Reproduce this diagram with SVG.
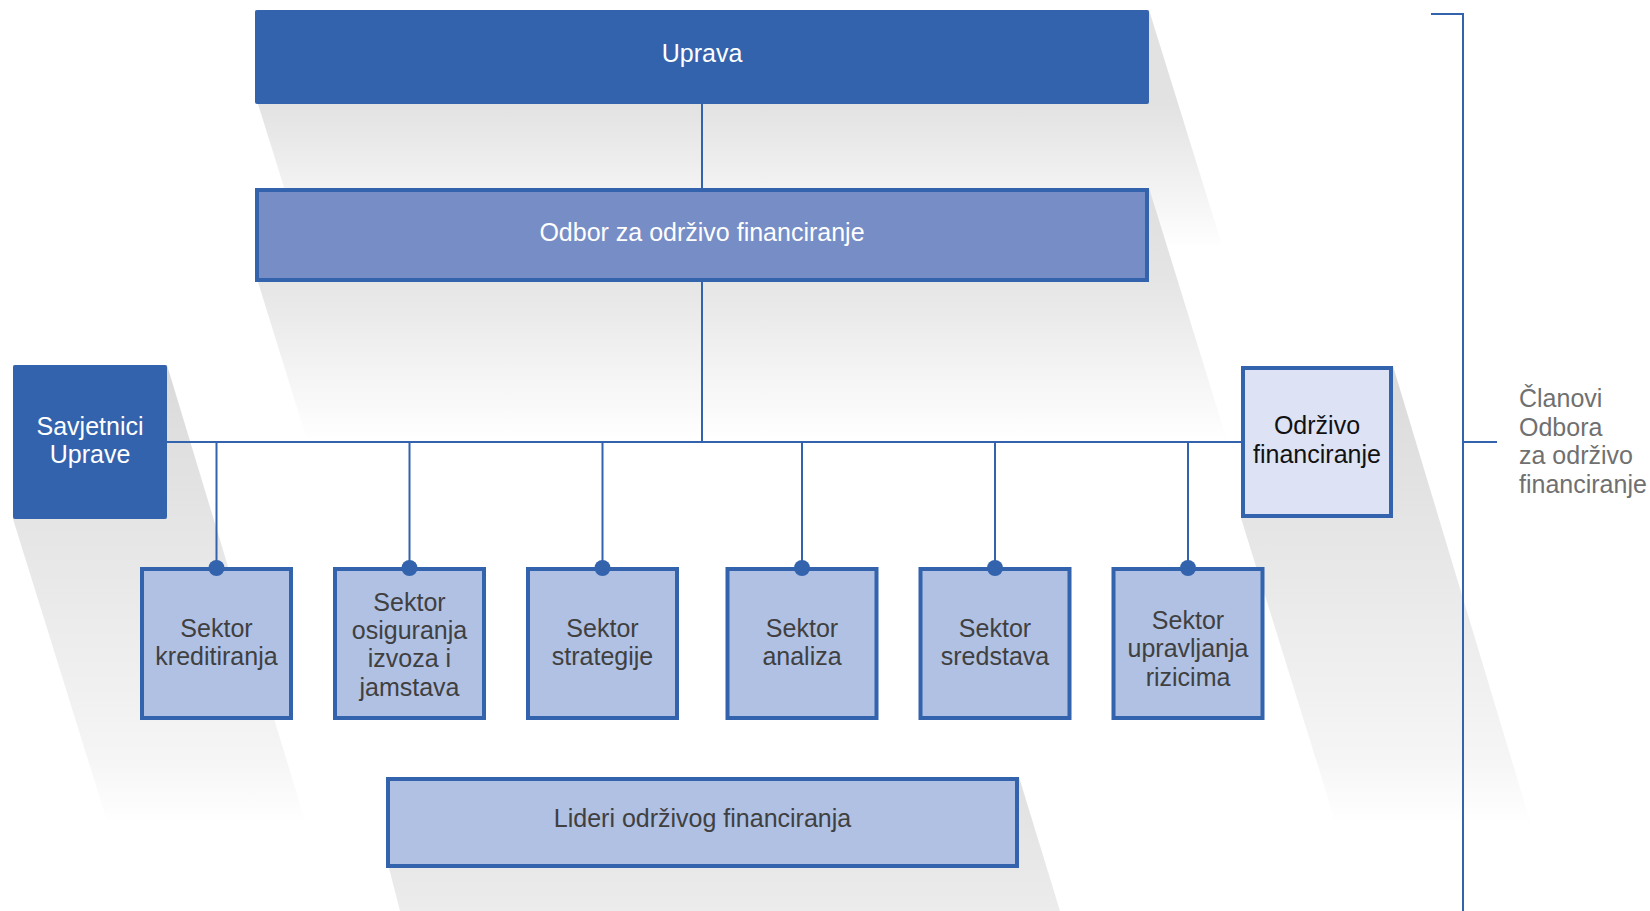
<svg xmlns="http://www.w3.org/2000/svg" width="1650" height="911" viewBox="0 0 1650 911">
<style>
text{font-family:"Liberation Sans",Arial,sans-serif;font-size:25px;text-anchor:middle}
.w{fill:#ffffff}
.d{fill:#404040}
.k{fill:#111111}
.g{fill:#707070;text-anchor:start}
.dark{fill:#3363ad}
.box{stroke:#3363ad;stroke-width:4}
.sec{fill:#b0c1e4}
.line{stroke:#3363ad;stroke-width:2;fill:none}
.dot{fill:#3363ad}
</style>
<defs>
<linearGradient id="gU" gradientUnits="userSpaceOnUse" x1="0" y1="104" x2="0" y2="250"><stop offset="0" stop-color="#e2e2e2"/><stop offset="1" stop-color="#ffffff"/></linearGradient>
<linearGradient id="gO" gradientUnits="userSpaceOnUse" x1="0" y1="188" x2="0" y2="440"><stop offset="0" stop-color="#dedede"/><stop offset="0.37" stop-color="#e5e5e5"/><stop offset="1" stop-color="#ffffff"/></linearGradient>
<linearGradient id="gS" gradientUnits="userSpaceOnUse" x1="0" y1="365" x2="0" y2="825"><stop offset="0" stop-color="#dadada"/><stop offset="0.85" stop-color="#f5f5f5"/><stop offset="1" stop-color="#ffffff"/></linearGradient>
<linearGradient id="gL" gradientUnits="userSpaceOnUse" x1="0" y1="777" x2="0" y2="911"><stop offset="0" stop-color="#e0e0e0"/><stop offset="1" stop-color="#ececec"/></linearGradient>
</defs>
<rect width="1650" height="911" fill="#ffffff"/>
<g id="shadows">
<polygon points="255,10 1149,10 1222,245 302,245 258,104" fill="url(#gU)"/>
<polygon points="255,188 1149,188 1227,440 307,440 258,282" fill="url(#gO)"/>
<polygon points="13,365 167,365 305,821 107,821 13,519" fill="url(#gS)"/>
<polygon points="1241,366 1393,366 1530,821 1335,821 1241,518" fill="url(#gS)"/>
<polygon points="386,777 1019,777 1060,911 400,911 389,868" fill="url(#gL)"/>
</g>
<g id="bracket">
<polyline class="line" points="1431,14 1463,14 1463,911"/>
<line class="line" x1="1463" y1="442" x2="1497" y2="442"/>
<text class="g" x="1519" y="407">Članovi</text>
<text class="g" x="1519" y="436">Odbora</text>
<text class="g" x="1519" y="464">za održivo</text>
<text class="g" x="1519" y="493">financiranje</text>
</g>
<g id="connectors">
<line class="line" x1="702" y1="104" x2="702" y2="188"/>
<line class="line" x1="702" y1="282" x2="702" y2="442"/>
<line class="line" x1="167" y1="442" x2="1241" y2="442"/>
<line class="line" x1="216.5" y1="442" x2="216.5" y2="568"/>
<line class="line" x1="409.5" y1="442" x2="409.5" y2="568"/>
<line class="line" x1="602.5" y1="442" x2="602.5" y2="568"/>
<line class="line" x1="802" y1="442" x2="802" y2="568"/>
<line class="line" x1="995" y1="442" x2="995" y2="568"/>
<line class="line" x1="1188" y1="442" x2="1188" y2="568"/>
</g>
<g id="uprava">
<rect class="dark" x="255" y="10" width="894" height="94" rx="2"/>
<text class="w" x="702" y="62">Uprava</text>
</g>
<g id="odbor">
<rect class="box" fill="#778dc6" x="257" y="190" width="890" height="90"/>
<text class="w" x="702" y="241">Odbor za održivo financiranje</text>
</g>
<g id="savjetnici">
<rect class="dark" x="13" y="365" width="154" height="154" rx="2"/>
<text class="w" x="90" y="435">Savjetnici</text>
<text class="w" x="90" y="463">Uprave</text>
</g>
<g id="odrzivo">
<rect class="box" fill="#dde3f5" x="1243" y="368" width="148" height="148"/>
<text class="k" x="1317" y="434">Održivo</text>
<text class="k" x="1317" y="463">financiranje</text>
</g>
<g id="s1">
<rect class="box sec" x="142" y="569" width="149" height="149"/>
<text class="d" x="216.5" y="637">Sektor</text>
<text class="d" x="216.5" y="665">kreditiranja</text>
</g>
<g id="s2">
<rect class="box sec" x="335" y="569" width="149" height="149"/>
<text class="d" x="409.5" y="611">Sektor</text>
<text class="d" x="409.5" y="639">osiguranja</text>
<text class="d" x="409.5" y="667">izvoza i</text>
<text class="d" x="409.5" y="696">jamstava</text>
</g>
<g id="s3">
<rect class="box sec" x="528" y="569" width="149" height="149"/>
<text class="d" x="602.5" y="637">Sektor</text>
<text class="d" x="602.5" y="665">strategije</text>
</g>
<g id="s4">
<rect class="box sec" x="727.5" y="569" width="149" height="149"/>
<text class="d" x="802" y="637">Sektor</text>
<text class="d" x="802" y="665">analiza</text>
</g>
<g id="s5">
<rect class="box sec" x="920.5" y="569" width="149" height="149"/>
<text class="d" x="995" y="637">Sektor</text>
<text class="d" x="995" y="665">sredstava</text>
</g>
<g id="s6">
<rect class="box sec" x="1113.5" y="569" width="149" height="149"/>
<text class="d" x="1188" y="629">Sektor</text>
<text class="d" x="1188" y="657">upravljanja</text>
<text class="d" x="1188" y="686">rizicima</text>
</g>
<g id="dots">
<circle class="dot" cx="216.5" cy="568" r="8"/>
<circle class="dot" cx="409.5" cy="568" r="8"/>
<circle class="dot" cx="602.5" cy="568" r="8"/>
<circle class="dot" cx="802" cy="568" r="8"/>
<circle class="dot" cx="995" cy="568" r="8"/>
<circle class="dot" cx="1188" cy="568" r="8"/>
</g>
<g id="lideri">
<rect class="box sec" x="388" y="779" width="629" height="87"/>
<text class="d" x="702.5" y="827">Lideri održivog financiranja</text>
</g>
</svg>
